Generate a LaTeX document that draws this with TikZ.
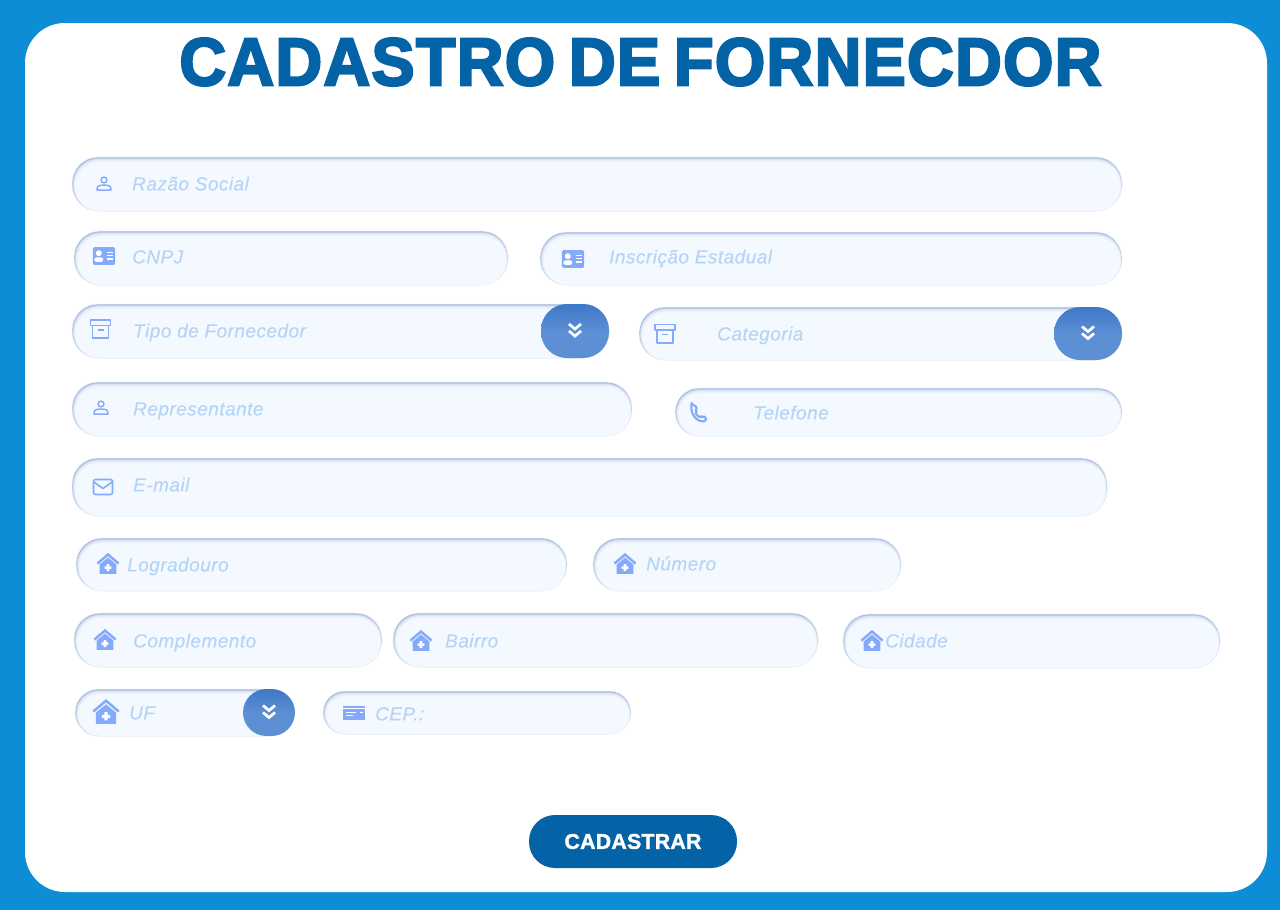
\documentclass[tikz,border=0pt]{standalone}
\usepackage{fontspec}
\setmainfont{Liberation Sans}[ItalicFeatures={LetterSpace=2.5,FakeBold=.25}]
\newfontfamily\titlefont{Liberation Sans Bold}[FakeBold=3.6,WordSpace=0.72,LetterSpace=2.2]
\newfontfamily\btnfont{Liberation Sans Bold}[FakeBold=1.6,LetterSpace=1]
\definecolor{pagebg}{HTML}{0C8DD6}
\definecolor{titleblue}{HTML}{0463A6}
\definecolor{fieldfill}{HTML}{F4F9FF}
\definecolor{fieldedge}{HTML}{F2F7FE}
\definecolor{inset}{HTML}{849BCD}
\definecolor{labelblue}{HTML}{B5D5F7}
\definecolor{iconblue}{HTML}{85A9FB}
\definecolor{btntop}{HTML}{3F78C8}
\definecolor{btnbot}{HTML}{5C8FD3}
\tikzset{
  x=1pt,y=-1pt,
  fieldbox/.style={rectangle,inner sep=0pt,outer sep=0pt,fill=fieldfill,draw=fieldedge,line width=.6pt,rounded corners=\rad pt,
    path picture={
      \foreach \w/\o in {5/.07,3.4/.13,2/.3,1/.55}{
        \draw[inset,opacity=\o,line width=\w pt,rounded corners=\rad pt]
          ([xshift=.2*\w pt,yshift=-.5*\w pt]path picture bounding box.north west) rectangle
          ([xshift=.2*\w pt,yshift=-.5*\w pt]path picture bounding box.south east);
      }
    }},
  dropbtn/.style={rectangle,inner sep=0pt,outer sep=0pt,rounded corners=\rad pt,top color=btntop,bottom color=btnbot,middle color=btnbot},
  fieldlabel/.style={anchor=base west,inner sep=0pt,yshift=.6pt,text=labelblue,font=\fontsize{19}{20}\selectfont\itshape},
  iconline/.style={draw=iconblue,line width=1.6pt,line join=round,line cap=round},
  iconfill/.style={fill=iconblue},
  chev/.style={draw=white,line width=2.7pt,line join=miter},
}
% name, x1, y1, x2, y2
\newcommand{\fieldat}[5]{%
  \pgfmathsetmacro{\rad}{min(26,(#5-#3)/2)}%
  \node[fieldbox,minimum width=#4pt-#2pt,minimum height=#5pt-#3pt] (#1) at ({(#2+#4)/2},{(#3+#5)/2}) {};}
\newcommand{\btnat}[5]{%
  \pgfmathsetmacro{\rad}{min(26,(#5-#3)/2)}%
  \node[dropbtn,minimum width=#4pt-#2pt,minimum height=#5pt-#3pt] (#1) at ({(#2+#4)/2},{(#3+#5)/2}) {};
  \draw[chev] ([xshift=-6pt,yshift=7pt]#1.center) -- ([yshift=2pt]#1.center) -- ([xshift=6pt,yshift=7pt]#1.center);
  \draw[chev] ([xshift=-6pt,yshift=0pt]#1.center) -- ([yshift=-5pt]#1.center) -- ([xshift=6pt,yshift=0pt]#1.center);}
\newcommand{\personicon}[2]{\begin{scope}[shift={(#1,#2)}]
  \draw[iconline,line width=1.5pt] (0,-4) circle (2.9);
  \draw[iconline,line width=1.5pt,line join=round] (-6.8,6.2) -- (-6.8,4) .. controls (-6.8,1.5) and (-3,1) .. (0,1) .. controls (3,1) and (6.8,1.5) .. (6.8,4) -- (6.8,6.2) -- cycle;
\end{scope}}
\newcommand{\idicon}[2]{\begin{scope}[shift={(#1,#2)}]
  \fill[iconfill,rounded corners=1.5pt] (-11.2,-8.8) rectangle (11.2,8.8);
  \fill[white] (-5.2,-2.8) circle (3);
  \fill[white,rounded corners=1.5pt] (-9.6,5.8) rectangle (-.8,1.4);
  \draw[white,line width=1.2pt] (2.6,-3.4) -- (8.6,-3.4) (2.6,-.2) -- (8.6,-.2) (2.6,3) -- (8.6,3);
\end{scope}}
\newcommand{\boxicon}[2]{\begin{scope}[shift={(#1,#2)}]
  \draw[iconline,line cap=butt] (-10,-9) rectangle (10,-3.6);
  \draw[iconline,line cap=butt] (-8,-3.6) -- (-8,9.2) -- (8,9.2) -- (8,-3.6);
  \draw[iconline,line cap=butt] (-3,1) -- (3,1);
\end{scope}}
\newcommand{\phoneicon}[2]{\begin{scope}[shift={(#1,#2)}]
  \draw[iconline,line width=2.1pt,rounded corners=2pt] (-7,-8) -- (-3.5,-8.4) -- (-1.2,-3.2) -- (-3.4,-1.2)
    .. controls (-2.2,1.6) and (-.2,3.4) .. (2.6,4.8) -- (4.6,2.6) -- (8,4.8) -- (7.4,8.4)
    .. controls (-1,9) and (-7.6,2) .. cycle;
\end{scope}}
\newcommand{\mailicon}[2]{\begin{scope}[shift={(#1,#2)}]
  \draw[iconline,rounded corners=2pt] (-9.5,-7.5) rectangle (9.5,7.5);
  \draw[iconline] (-9.2,-5) -- (0,1.4) -- (9.2,-5);
\end{scope}}
\newcommand{\houseicon}[3]{\begin{scope}[shift={(#1,#2)},scale=#3]
  \fill[iconfill] (0,-6.4) -- (8.4,.6) -- (8.4,9.8) -- (-8.4,9.8) -- (-8.4,.6) -- cycle;
  \draw[iconblue,line width=2.5pt,line join=miter] (-10.6,-.4) -- (0,-9.4) -- (10.6,-.4);
  \fill[white] (-1.3,.2) rectangle (1.3,7) (-3.4,2.3) rectangle (3.4,4.9);
\end{scope}}
\newcommand{\cardicon}[2]{\begin{scope}[shift={(#1,#2)}]
  \fill[iconfill] (-11,-7) rectangle (11,7);
  \fill[white] (-11,-4.6) rectangle (11,-3.6);
  \draw[white,line width=1pt] (-8.5,.2) -- (2,.2) (-8.5,3.4) -- (-1,3.4) (5.5,.2) -- (9,.2);
\end{scope}}
\begin{document}
\begin{tikzpicture}
\useasboundingbox (0,0) rectangle (1280,910);
\fill[pagebg] (0,0) rectangle (1280,910);
\node[rectangle,fill=white,rounded corners=40pt,inner sep=0pt,minimum width=1242pt,minimum height=869pt] (panel) at (646,457.5) {};
\node[anchor=center,inner sep=0pt,text=titleblue] (title) at (640.5,62) {\resizebox{922pt}{47pt}{\titlefont\fontsize{60}{66}\selectfont CADASTRO DE FORNECDOR}};

\fieldat{razao}{72}{157}{1122}{211}
\fieldat{cnpj}{74}{231}{508}{285}
\fieldat{ie}{540}{232}{1122}{285}
\fieldat{tipo}{72}{304}{609}{358}
\fieldat{categoria}{639}{307}{1122}{360}
\fieldat{repres}{72}{382}{632}{436}
\fieldat{telefone}{675}{388}{1122}{436}
\fieldat{email}{72}{458}{1107}{516}
\fieldat{logradouro}{76}{538}{567}{591}
\fieldat{numero}{593}{538}{901}{591}
\fieldat{complemento}{74}{613}{382}{667}
\fieldat{bairro}{393}{613}{818}{667}
\fieldat{cidade}{843}{614}{1220}{668}
\fieldat{uf}{75}{689}{290}{736}
\fieldat{cep}{323}{691}{631}{734}

\btnat{tipobtn}{541}{304}{609}{358}
\btnat{catbtn}{1054}{307}{1122}{360}
\btnat{ufbtn}{243}{689}{295}{736}

\node[fieldlabel] (t1) at (132,191) {Razão Social};
\node[fieldlabel] (t2) at (132,264) {CNPJ};
\node[fieldlabel] (t3) at (609,264) {Inscrição Estadual};
\node[fieldlabel] (t4) at (133,338) {Tipo de Fornecedor};
\node[fieldlabel] (t5) at (717,341) {Categoria};
\node[fieldlabel] (t6) at (133,416) {Representante};
\node[fieldlabel] (t7) at (753,420) {Telefone};
\node[fieldlabel] (t8) at (133,492) {E-mail};
\node[fieldlabel] (t9) at (127,572) {Logradouro};
\node[fieldlabel] (t10) at (646,571) {Número};
\node[fieldlabel] (t11) at (133,648) {Complemento};
\node[fieldlabel] (t12) at (445,648) {Bairro};
\node[fieldlabel] (t13) at (885,648) {Cidade};
\node[fieldlabel] (t14) at (129,720) {UF};
\node[fieldlabel] (t15) at (375,721) {CEP.:};

\personicon{104}{184}
\idicon{104}{256}
\idicon{573}{259}
\boxicon{100.5}{329}
\boxicon{665}{333.5}
\personicon{101}{408}
\phoneicon{698.5}{413}
\mailicon{103}{487}
\houseicon{108}{564}{1}
\houseicon{625}{564}{1}
\houseicon{105}{640}{1}
\houseicon{421}{641}{1}
\houseicon{872}{641}{1}
\houseicon{106}{712}{1.2}
\cardicon{354}{712.5}

\node[rectangle,fill=titleblue,rounded corners=26pt,inner sep=0pt,minimum width=208pt,minimum height=53pt,text=white] (submit) at (633,841.5) {\resizebox{137pt}{!}{\btnfont\fontsize{21}{24}\selectfont CADASTRAR}};
\end{tikzpicture}
\end{document}
